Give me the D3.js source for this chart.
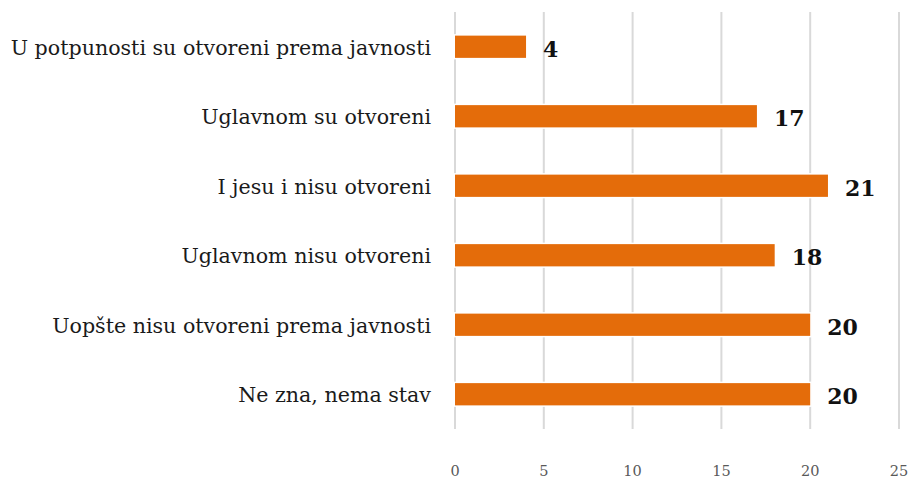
<!DOCTYPE html>
<html>
<head>
<meta charset="utf-8">
<script src="https://cdn.jsdelivr.net/npm/d3@7"></script>
<style>
  html, body { margin: 0; padding: 0; background: #fff; }
  svg { display: block; }
</style>
</head>
<body>
<svg id="chart" width="913" height="479"></svg>
<script>
// Responses, top to bottom
const categories = [
  "U potpunosti su otvoreni prema javnosti",
  "Uglavnom su otvoreni",
  "I jesu i nisu otvoreni",
  "Uglavnom nisu otvoreni",
  "Uopšte nisu otvoreni prema javnosti",
  "Ne zna, nema stav"
];
const values = [4, 17, 21, 18, 20, 20];
const tickValues = [0, 5, 10, 15, 20, 25];

const svg = d3.select("#chart");
const serif = "'DejaVu Serif', 'Liberation Serif', serif";

const x = d3.scaleLinear().domain([0, 25]).range([455, 899]);
const y = d3.scaleBand().domain(categories).range([12, 429])
  .paddingInner(0.68).paddingOuter(0.34);

// vertical gridlines
svg.append("g").selectAll("line").data(tickValues).join("line")
  .attr("x1", d => x(d)).attr("x2", d => x(d))
  .attr("y1", 12).attr("y2", 429)
  .attr("stroke", "#d9d9d9").attr("stroke-width", 2);

// tick labels
svg.append("g").selectAll("text").data(tickValues).join("text")
  .attr("x", d => x(d)).attr("y", 476)
  .attr("text-anchor", "middle")
  .attr("font-family", serif).attr("font-size", 14.5)
  .attr("fill", "#595959")
  .text(d => d);

// bars with a thin white halo
const bars = svg.append("g");
bars.selectAll("rect").data(values).join("rect")
  .attr("x", x(0))
  .attr("y", (d, i) => y(categories[i]))
  .attr("width", d => x(d) - x(0))
  .attr("height", y.bandwidth())
  .attr("fill", "#e46c0a")
  .attr("stroke", "#ffffff").attr("stroke-width", 3)
  .attr("paint-order", "stroke");

// category labels
svg.append("g").selectAll("text").data(categories).join("text")
  .attr("x", 431)
  .attr("y", d => y(d) + y.bandwidth() / 2 + 8)
  .attr("text-anchor", "end")
  .attr("font-family", serif).attr("font-size", 20.6)
  .attr("fill", "#1a1a1a")
  .text(d => d);

// value labels
svg.append("g").selectAll("text").data(values).join("text")
  .attr("x", d => x(d) + 17)
  .attr("y", (d, i) => y(categories[i]) + y.bandwidth() / 2 + 10)
  .attr("font-family", serif).attr("font-size", 22)
  .attr("font-weight", "bold")
  .attr("fill", "#111")
  .text(d => d);
</script>
</body>
</html>
